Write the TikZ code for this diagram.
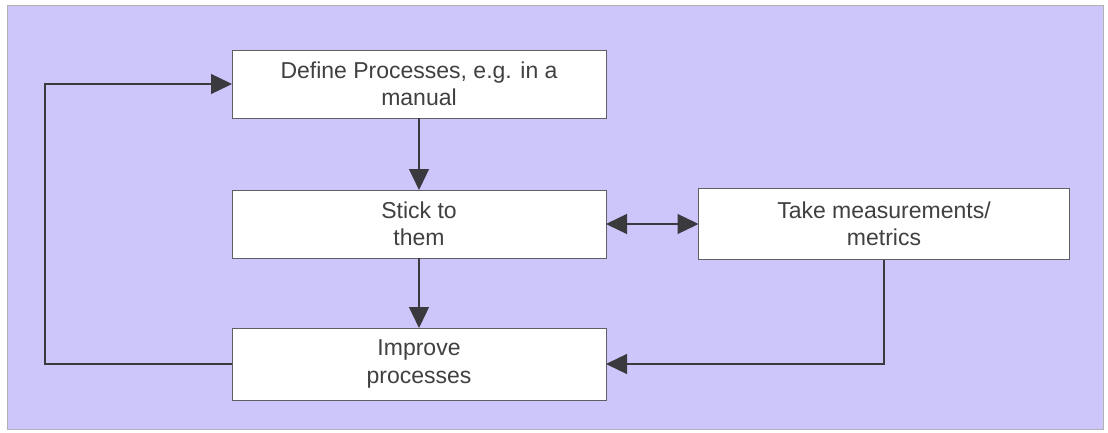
\documentclass[tikz,border=0pt]{standalone}
\usepackage{fontspec}
\setmainfont{Liberation Sans}
\usetikzlibrary{arrows.meta,positioning}
\definecolor{lavender}{RGB}{205,198,250}
\definecolor{ink}{RGB}{64,64,64}
\definecolor{wire}{RGB}{58,58,62}

\begin{document}
\begin{tikzpicture}[
                        x = 1pt,
                        y = -1pt,
                        > = {Triangle[length=21pt,width=20pt]},
                        line width = 1.3pt,
                        node distance = 140pt,
                        font = \fontsize{23}{27.5}\selectfont
                        ]

                        \tikzstyle{stage}=[
                                draw = gray!75!black,
                                fill = white,
                                line width = 0.8pt,
                                text = ink,
                                align = center,
                                inner sep = 0pt,
                                outer sep = 0pt,
                                minimum width = 374pt,
                                minimum height = 68pt
                        ]

                        \useasboundingbox (0,0) rectangle (1108,433);
                        \filldraw[fill=lavender, draw=gray!60, line width=0.8pt] (7,5) rectangle (1103,429);

                        \node[stage] (define) at (419,84) {Define Processes, e.g. in a\\manual};
                        \node[stage] (stick) [below of=define] {Stick to\\them};
                        \node[stage, minimum height=72pt] (improve) [below of=stick] {Improve\\processes};
                        \node[stage, minimum width=371pt, minimum height=71pt, node distance=465pt] (measure) [right of=stick] {Take measurements/\\metrics};
                        \coordinate (back) at (45,364);

                        \draw[wire, ->] (define) -- (stick);
                        \draw[wire, ->] (stick) -- (improve);
                        \draw[wire, <->] (stick) -- (measure);
                        \draw[wire, ->] (measure.south) |- (improve.east);
                        \draw[wire, ->] (improve.west) -- (improve.west -| back) |- (define.west);
                \end{tikzpicture}
\end{document}
